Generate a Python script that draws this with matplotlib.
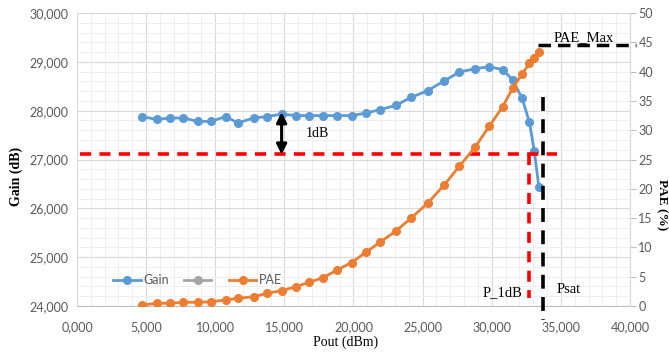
import numpy as np
import matplotlib
matplotlib.use("Agg")
import matplotlib.pyplot as plt
from matplotlib.ticker import MultipleLocator, FuncFormatter

plt.rcParams['lines.scale_dashes'] = False

# Pout (dBm), Gain (dB), PAE (%)
pout = [4.71, 5.77, 6.74, 7.70, 8.74, 9.71, 10.75, 11.64, 12.78, 13.77,
        14.80, 15.82, 16.78, 17.80, 18.81, 19.86, 20.89, 21.91, 23.07, 24.15,
        25.36, 26.56, 27.65, 28.79, 29.83, 30.80, 31.52, 32.20, 32.72, 33.08, 33.41]
gain = [27.88, 27.82, 27.85, 27.85, 27.78, 27.78, 27.88, 27.75, 27.85, 27.88,
        27.93, 27.90, 27.90, 27.90, 27.90, 27.90, 27.95, 28.02, 28.11, 28.27,
        28.41, 28.61, 28.79, 28.86, 28.90, 28.84, 28.63, 28.25, 27.77, 27.17, 26.43]
pae = [0.17, 0.46, 0.46, 0.63, 0.63, 0.73, 1.02, 1.31, 1.59, 2.17,
       2.61, 3.29, 4.04, 4.83, 6.14, 7.42, 9.16, 10.87, 12.80, 14.97,
       17.53, 20.65, 23.84, 27.08, 30.72, 34.04, 37.20, 39.59, 41.42, 42.27, 43.40]

gain_1db = 27.11     # gain compressed by 1 dB
p_1db = 32.72
p_sat = 33.74
pae_max = 44.5

blue = '#5B9BD5'
orange = '#ED7D31'
grey = '#A5A5A5'
tick_col = '#595959'

fig = plt.figure(figsize=(6.69, 3.52), dpi=100)
ax = fig.add_axes([0.1151, 0.1307, 0.8266, 0.8323])
ax2 = ax.twinx()

ax.set_xlim(0, 40)
ax.set_ylim(24, 30)
ax2.set_ylim(0, 50)

ax.xaxis.set_major_locator(MultipleLocator(5))
ax.xaxis.set_minor_locator(MultipleLocator(1))
ax.yaxis.set_major_locator(MultipleLocator(1))
ax.yaxis.set_minor_locator(MultipleLocator(0.2))
ax2.yaxis.set_major_locator(MultipleLocator(5))

comma = FuncFormatter(lambda v, p: ('%.3f' % v).replace('.', ','))
ax.xaxis.set_major_formatter(comma)
ax.yaxis.set_major_formatter(comma)

ax.grid(which='major', color='#d9d9d9', lw=0.8)
ax.grid(which='minor', color='#efefef', lw=0.7)
ax.set_axisbelow(True)

for a in (ax, ax2):
    for s in a.spines.values():
        s.set_visible(False)
ax.spines['bottom'].set_visible(True)
ax.spines['bottom'].set_color('#bfbfbf')
ax2.spines['right'].set_visible(True)
ax2.spines['right'].set_color('#d9d9d9')

ax.tick_params(which='both', length=0, labelsize=9, colors=tick_col, pad=6)
ax.tick_params(axis='x', pad=11)
ax2.tick_params(axis='y', length=4, color='#bfbfbf', labelsize=9, labelcolor=tick_col, pad=2)
for lab in ax.get_xticklabels() + ax.get_yticklabels() + ax2.get_yticklabels():
    lab.set_family('Lato')

l1, = ax.plot(pout, gain, '-o', color=blue, lw=2, ms=5.5, zorder=4)
l3, = ax2.plot(pout, pae, '-o', color=orange, lw=2, ms=5.5, zorder=3)
l2, = ax.plot([], [], '-o', color=grey, lw=2, ms=5.5)

# P1dB / Psat / PAE max markers
ax2.set_zorder(ax.get_zorder() + 1)
ax.patch.set_visible(True)
ax2.patch.set_visible(False)
ax2.axhline(pae_max, xmin=(33.36) / 40, xmax=40.4 / 40, color='black', lw=2.5,
            dashes=(9, 5), clip_on=False)
ax.plot([0.25, 34.7], [gain_1db, gain_1db], color='red', lw=2.6, dashes=(8, 6), zorder=5)
ax.plot([p_1db, p_1db], [gain_1db, 24.16], color='red', lw=2.6, dashes=(8, 6), zorder=5)
ax.plot([p_sat, p_sat], [28.27, 23.72], color='black', lw=2.6, dashes=(10, 6),
        zorder=5, clip_on=False)

ax.annotate('', xy=(14.8, 27.97), xytext=(14.8, 27.1),
            arrowprops=dict(arrowstyle='<|-|>', color='black', lw=2.2, mutation_scale=15,
                            shrinkA=0, shrinkB=0), zorder=6)

serif = 'Liberation Serif'
ax.text(17.4, 27.53, '1dB', family=serif, fontsize=10, ha='center', va='center')
ax.text(34.45, 29.5, 'PAE_Max', family=serif, fontsize=10.5, ha='left', va='center')
ax.text(32.25, 24.27, 'P_1dB', family=serif, fontsize=10.5, ha='right', va='center')
ax.text(34.7, 24.33, 'Psat', family=serif, fontsize=10.5, ha='left', va='center')

ax.set_xlabel('Pout (dBm)', family=serif, fontsize=10)
ax.xaxis.set_label_coords(0.485, -0.1)
fig.text(0.025, 0.5, 'Gain (dB)', family=serif, fontsize=10, rotation=90,
         ha='center', va='center', fontweight='bold')
fig.text(0.989, 0.42, 'PAE (%)', family=serif, fontsize=9.5, rotation=270,
         ha='center', va='center', fontweight='bold')

leg = ax.legend([l1, l2, l3], ['Gain', '', 'PAE'], loc='lower left',
                bbox_to_anchor=(0.045, 0.03), ncol=3, frameon=False, fontsize=9,
                handlelength=2.2, columnspacing=1.2, handletextpad=0.2)
for t in leg.get_texts():
    t.set_color(tick_col)
    t.set_family('Lato')
leg.set_zorder(7)

fig.savefig('out.png', dpi=100)
